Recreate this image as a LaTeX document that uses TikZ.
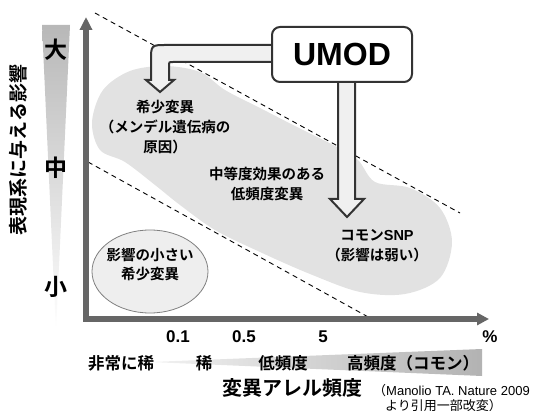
\documentclass[tikz,border=0pt]{standalone}
\usepackage{fontspec}
\setmainfont{Liberation Sans}
\newfontfamily\jp{Noto Sans CJK JP}[BoldFont={Noto Sans CJK JP Bold}]
\newfontfamily\lat{Liberation Sans}
\usetikzlibrary{calc,arrows.meta,shapes.geometric}
\definecolor{axisgray}{HTML}{666666}
\definecolor{blobgray}{HTML}{E2E2E2}
\definecolor{arrowfill}{HTML}{F0F0F0}
\definecolor{edgegray}{HTML}{333333}
\definecolor{ovalfill}{HTML}{EEEEEE}
\begin{document}
\begin{tikzpicture}[x=1pt,y=-1pt,
  blobtxt/.style={font=\jp\bfseries\fontsize{14.5}{20}\selectfont, align=center, inner sep=0pt},
  bigtxt/.style={font=\jp\bfseries\fontsize{23}{23}\selectfont, inner sep=0pt},
  vlabel/.style={font=\jp\bfseries\fontsize{19}{19}\selectfont, inner sep=0pt, rotate=90},
  numtxt/.style={font=\lat\bfseries\fontsize{17}{17}\selectfont, inner sep=0pt},
  freqtxt/.style={font=\jp\bfseries\fontsize{16.5}{16.5}\selectfont, inner sep=0pt},
  titletxt/.style={font=\jp\bfseries\fontsize{20}{20}\selectfont, inner sep=0pt},
  reftxt/.style={font=\lat\fontsize{13}{15}\selectfont, inner sep=0pt},
  blockarrow/.style={fill=arrowfill, draw=edgegray, line width=2, line join=miter},
  axisline/.style={draw=axisgray, line width=6, line join=miter,
    {Triangle[width=12pt,length=13pt]}-{Triangle[width=12pt,length=12pt]}},
  guide/.style={draw=black, line width=0.9, dash pattern=on 5pt off 4pt}
]
\useasboundingbox (0,0) rectangle (534,411);
% gradient wedges
\shade[top color=black!28, bottom color=white] (42,25) -- (70,25) -- (56,332) -- cycle;
\shade[left color=black!5, right color=black!30] (150,362) -- (482,349) -- (482,376) -- cycle;
% blob band
\fill[blobgray] plot[smooth cycle, tension=0.55] coordinates {
  (92,122) (103,90) (130,71) (165,66) (200,72) (225,90) (260,108) (297,127)
  (337,147) (358,160) (375,182) (410,188) (440,208) (452,242) (440,278)
  (405,294) (360,292) (310,274) (260,252) (215,230) (180,205) (155,185)
  (125,162) (100,150)};
% dashed guides
\coordinate (g1a) at (95,13);
\coordinate (g1b) at (460,213);
\coordinate (g2a) at (88,162);
\coordinate (g2b) at (370,318);
\draw[guide] (g1a) -- (g1b);
\draw[guide] (g2a) -- (g2b);
% small-effect oval
\node[draw=black!50, line width=0.8, fill=ovalfill, ellipse, minimum width=116, minimum height=83, inner sep=0pt] (oval) at (150,271.5) {};
% axes
\coordinate (origin) at (86,319);
\coordinate (ytip) at (86,17);
\coordinate (xtip) at (489,319);
\draw[axisline] (ytip) -- (origin) -- (xtip);
% UMOD box and arrows
\coordinate (tipA) at (160,92);
\coordinate (tipB) at (347,217);
\filldraw[blockarrow] (273,45) -- (167,45) .. controls (151,45) .. (151,61) -- (151,80) -- (146,80) -- (tipA) -- (174,80) -- (169,80) -- (169,66) .. controls (169,62) .. (173,62) -- (273,62);
\filldraw[blockarrow] (338,80) -- (338,199) -- (330,199) -- (tipB) -- (364,199) -- (355,199) -- (355,80);
\node[draw=edgegray, line width=2, rounded corners=8, fill=white, minimum width=140, minimum height=55, inner sep=0pt, font=\lat\bfseries\fontsize{32}{32}\selectfont] (umod) at (342,54.5) {UMOD};
% texts
\node[blobtxt] (rare) at (165,127) {希少変異\\（メンデル遺伝病の\\原因）};
\node[blobtxt] (mid) at (267,184) {中等度効果のある\\低頻度変異};
\node[blobtxt] (snp) at (377,246) {コモン{\lat\bfseries SNP}\\（影響は弱い）};
\node[blobtxt, font=\jp\bfseries\fontsize{14.5}{19}\selectfont] (small) at (150,265) {影響の小さい\\希少変異};
\node[bigtxt] (big) at (56,50) {大};
\node[bigtxt] (medium) at (56,168) {中};
\node[bigtxt] (little) at (56,287) {小};
\node[vlabel] (ylabel) at (18,150) {表現系に与える影響};
\node[numtxt] (n1) at (178,337) {0.1};
\node[numtxt] (n2) at (244,337) {0.5};
\node[numtxt] (n3) at (323,337) {5};
\node[numtxt] (pct) at (490,337) {\%};
\node[freqtxt] (f1) at (121,363) {非常に稀};
\node[freqtxt] (f2) at (204,363) {稀};
\node[freqtxt] (f3) at (283,363) {低頻度};
\node[freqtxt] (f4) at (413,363) {高頻度（コモン）};
\node[titletxt] (xlabel) at (292,388) {変異アレル頻度};
\node[reftxt, anchor=base west] (ref1) at (373,395) {{\jp （}Manolio TA. Nature 2009};
\node[reftxt, anchor=base west] (ref2) at (385,410) {{\jp より引用一部改変）}};
\end{tikzpicture}
\end{document}
